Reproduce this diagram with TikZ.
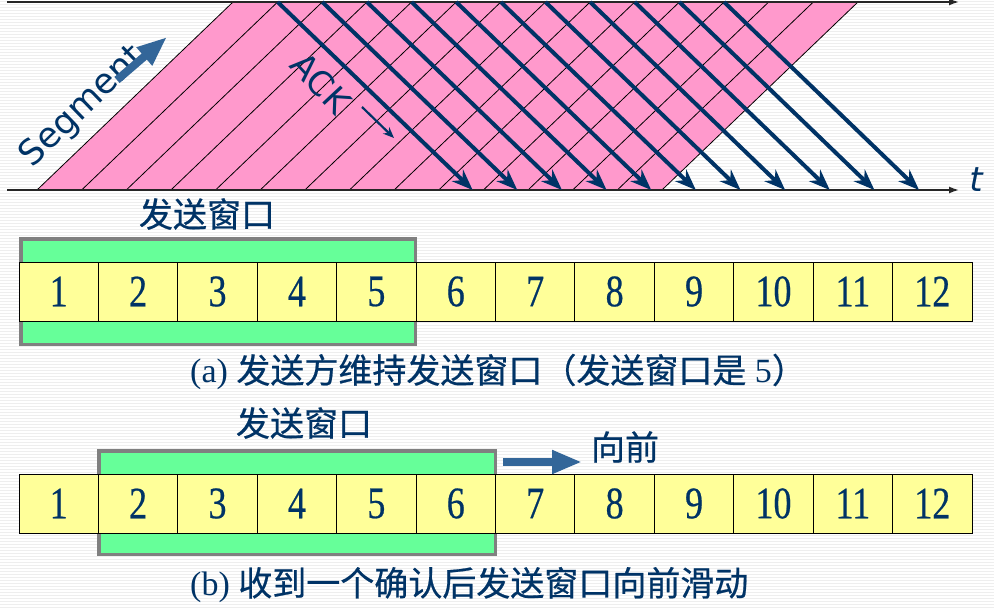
\documentclass[tikz,border=0pt]{standalone}
\usepackage{fontspec}
\setmainfont{Liberation Serif}
\newfontfamily\cjk[FakeBold=0.6]{Noto Sans CJK SC}
\newfontfamily\numfont[FakeStretch=0.8,FakeBold=0.5]{Liberation Serif}
\newfontfamily\sansf{DejaVu Sans}
\usetikzlibrary{arrows.meta}
\definecolor{navy}{RGB}{0,51,102}
\definecolor{pinkfill}{RGB}{255,153,204}
\definecolor{cellyellow}{RGB}{255,255,153}
\definecolor{wingreen}{RGB}{102,255,153}
\definecolor{winborder}{RGB}{128,128,128}
\definecolor{arrowblue}{RGB}{51,102,153}
\definecolor{stripegray}{RGB}{238,238,238}
\begin{document}
\begin{tikzpicture}[x=1pt,y=-1pt,
  cellbox/.style={draw=black,line width=0.9,fill=cellyellow,minimum width=79.42,minimum height=59,inner sep=0,text=navy,font=\numfont\fontsize{45}{45}\selectfont},
  winbox/.style={draw=winborder,line width=3.5,fill=wingreen,inner sep=0},
  cjklabel/.style={text=navy,inner sep=0,font=\cjk\fontsize{34}{40}\selectfont},
  captionbox/.style={text=navy,inner sep=0,anchor=west,font=\fontsize{34}{40}\selectfont},
  timeline/.style={line width=1.5,draw=black!85,-{Latex[length=10pt,width=7pt]}},
  segline/.style={line width=0.8,draw=black},
  ackarrow/.style={line width=4,draw=navy,-{Stealth[length=21pt,width=16pt]}},
  blockarrow/.style={line width=8,draw=arrowblue,-{Triangle[length=30pt,width=22pt]}},
  sanslabel/.style={text=navy,inner sep=0,font=\sansf\fontsize{35}{35}\selectfont},
  stripe/.style={draw=stripegray,line width=1.2}
]
\useasboundingbox (0,0) rectangle (994,610);
\fill[white] (0,0) rectangle (994,610);
\foreach \yy in {1.5,4.5,...,610} \draw[stripe] (0,\yy) -- (994,\yy);

% sliding segments
\def\s{44.64}
\fill[pinkfill] (37,190) -- (233,2) -- (858,2) -- (662,190) -- cycle;
\foreach \k in {0,...,14} \draw[segline] ({37+\s*\k},190) -- ({233+\s*\k},2);

% time lines
\coordinate (tla) at (7,2);
\coordinate (tlb) at (959,2);
\coordinate (bla) at (7,190);
\coordinate (blb) at (959,190);
\draw[timeline] (tla) -- (tlb);
\draw[timeline] (bla) -- (blb);

% ACKs
\foreach \k in {1,...,11} \draw[ackarrow] ({233+\s*\k},2) -- ({428+\s*\k},190);

\node[sanslabel,rotate=44] (segtext) at (83,107) {Segment};
\coordinate (sa0) at (117,80);
\coordinate (sa1) at (167,37);
\draw[blockarrow] (sa0) -- (sa1);

\node[sanslabel,rotate=-47,font=\sansf\fontsize{34}{34}\selectfont] (acktext) at (321,83) {ACK};
\coordinate (ka0) at (362,107);
\coordinate (ka1) at (394,138);
\draw[navy,line width=2.2,-{Stealth[length=11pt,width=9pt]}] (ka0) -- (ka1);

\node[text=navy,inner sep=0,font=\sansf\itshape\fontsize{34}{34}\selectfont] (tlabel) at (976,180) {t};

% (a)
\node[cjklabel] (wla) at (207,214) {发送窗口};
\node[winbox,minimum width=394.5,minimum height=105.5] (wina) at (218,291.5) {};
\foreach \i in {1,...,12} \node[cellbox] (a\i) at ({19+79.42*(\i-0.5)},291.5) {\i};
\node[captionbox] (capa) at (190,372) {(a) {\cjk 发送方维持发送窗口（发送窗口是} 5{\cjk ）}};

% (b)
\node[cjklabel] (wlb) at (304,423) {发送窗口};
\node[winbox,minimum width=396.5,minimum height=103.5] (winb) at (297,502.5) {};
\foreach \i in {1,...,12} \node[cellbox] (b\i) at ({19+79.42*(\i-0.5)},503.5) {\i};
\node[cjklabel] (fwd) at (625,447) {向前};
\coordinate (ba0) at (503,462);
\coordinate (ba1) at (582,462);
\draw[blockarrow] (ba0) -- (ba1);
\node[captionbox] (capb) at (190,585) {(b) {\cjk 收到一个确认后发送窗口向前滑动}};
\end{tikzpicture}
\end{document}
